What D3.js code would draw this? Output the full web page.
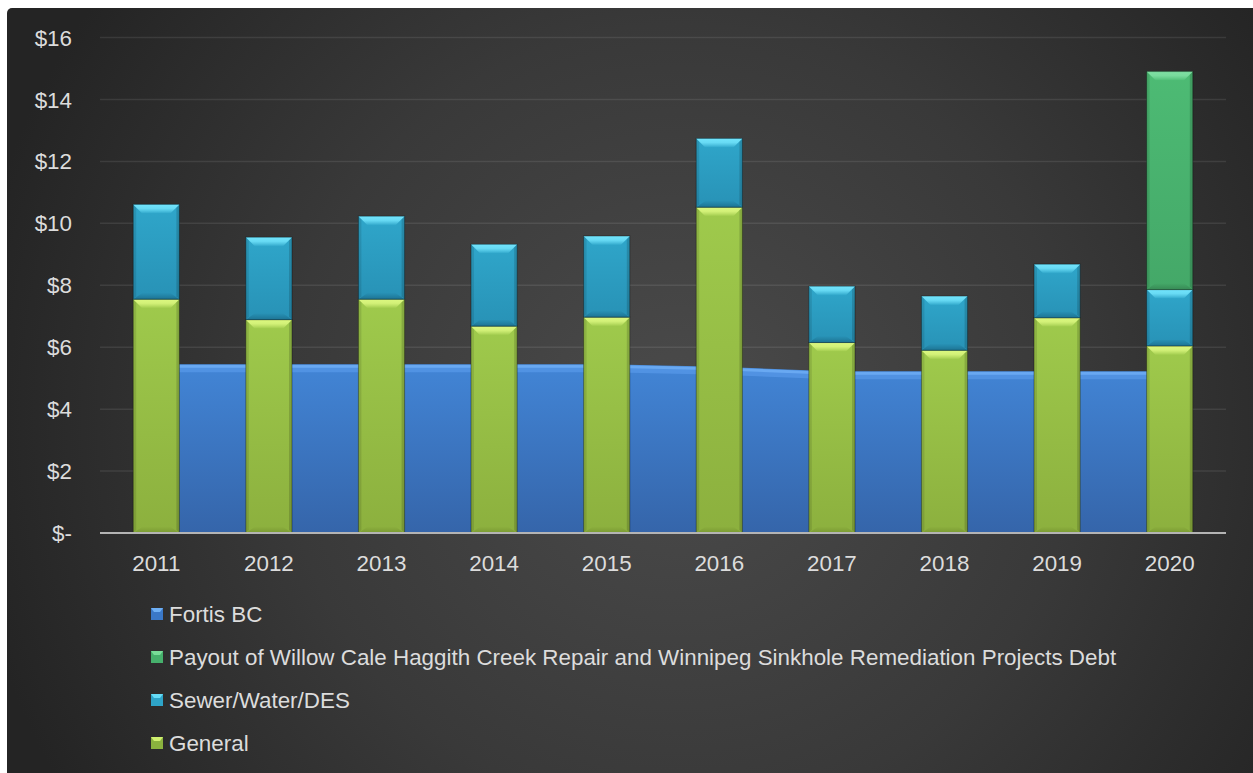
<!DOCTYPE html>
<html><head><meta charset="utf-8">
<script src="https://cdn.jsdelivr.net/npm/d3@7"></script>
<style>html,body{margin:0;padding:0;background:#fff;overflow:hidden}</style>
</head><body>
<svg id="c" width="1253" height="773"></svg>
<script>
const years = ["2011","2012","2013","2014","2015","2016","2017","2018","2019","2020"];
const fortis = [5.45,5.45,5.45,5.45,5.45,5.37,5.22,5.22,5.22,5.22];
const general = [7.55,6.89,7.55,6.68,6.97,10.52,6.15,5.90,6.95,6.04];
const sewer = [3.06,2.66,2.68,2.64,2.62,2.22,1.82,1.75,1.73,1.82];
const payout = [0,0,0,0,0,0,0,0,0,7.04];
const yTicks = [0,2,4,6,8,10,12,14,16];
const legendLabels = ["Fortis BC","Payout of Willow Cale Haggith Creek Repair and Winnipeg Sinkhole Remediation Projects Debt","Sewer/Water/DES","General"];

const FONT = "Liberation Sans, Arial, sans-serif";
const FS = 22.4;
const svg = d3.select("#c");
const defs = svg.append("defs");
const bg = defs.append("radialGradient").attr("id","bg").attr("gradientUnits","userSpaceOnUse")
  .attr("cx",680).attr("cy",420).attr("r",720);
bg.append("stop").attr("offset","0").attr("stop-color","#4b4b4b");
bg.append("stop").attr("offset","0.55").attr("stop-color","#393939");
bg.append("stop").attr("offset","1").attr("stop-color","#242424");
svg.append("rect").attr("x",7).attr("y",8).attr("width",1260).attr("height",780).attr("rx",5).attr("fill","url(#bg)");

const x = d3.scaleBand().domain(years).range([100,1226]).paddingInner(0.59).paddingOuter(0.295);
const y = d3.scaleLinear().domain([0,16]).range([533,37.5]);
const cx = d => x(d)+x.bandwidth()/2;

// gridlines
svg.append("g").selectAll("line").data(yTicks.slice(1)).join("line")
  .attr("x1",100).attr("x2",1226).attr("y1",d=>y(d)).attr("y2",d=>y(d))
  .attr("stroke","#ffffff").attr("stroke-opacity",0.09).attr("stroke-width",1.5);

// y labels
svg.append("g").selectAll("text").data(yTicks).join("text")
  .attr("x",72).attr("y",d=>y(d)).attr("dy","0.36em").attr("text-anchor","end")
  .attr("font-family",FONT).attr("font-size",FS).attr("fill","#dcdcdc")
  .text(d=> d===0 ? "$-" : "$"+d);

// Fortis area
const fg = defs.append("linearGradient").attr("id","fortisG").attr("x1",0).attr("x2",0).attr("y1",0).attr("y2",1);
fg.append("stop").attr("offset","0").attr("stop-color","#4285d6");
fg.append("stop").attr("offset","1").attr("stop-color","#3565aa");
const fdata = years.map((yr,i)=>({x:cx(yr), v:fortis[i]}));
svg.append("path").datum(fdata)
  .attr("d", d3.area().x(d=>d.x).y0(y(0)).y1(d=>y(d.v)))
  .attr("fill","url(#fortisG)");
svg.append("path").datum(fdata)
  .attr("d", d3.line().x(d=>d.x).y(d=>y(d.v)+4.5))
  .attr("fill","none").attr("stroke","#5b9cec").attr("stroke-width",7).attr("stroke-opacity",0.6);
svg.append("path").datum(fdata)
  .attr("d", d3.line().x(d=>d.x).y(d=>y(d.v)+2))
  .attr("fill","none").attr("stroke","#74b2f8").attr("stroke-width",3).attr("stroke-opacity",0.7);

// stacked bars
const series = [
  {id:"gen", vals:general, main:"#9fca4c", dark:"#8cb03e", top:"#dcf880", bot:"#7a9a33"},
  {id:"sew", vals:sewer, main:"#2fa6ca", dark:"#2892b6", top:"#72e4fc", bot:"#1d7494"},
  {id:"pay", vals:payout, main:"#4dbb74", dark:"#44a868", top:"#80e0a4", bot:"#378a55"}
];
series.forEach(s=>{
  const g = defs.append("linearGradient").attr("id","m_"+s.id).attr("x1",0).attr("x2",0).attr("y1",0).attr("y2",1);
  g.append("stop").attr("offset","0").attr("stop-color",s.main);
  g.append("stop").attr("offset","1").attr("stop-color",s.dark);
  const t = defs.append("linearGradient").attr("id","t_"+s.id).attr("x1",0).attr("x2",0).attr("y1",0).attr("y2",1);
  t.append("stop").attr("offset","0").attr("stop-color",s.top);
  t.append("stop").attr("offset","0.45").attr("stop-color",s.top).attr("stop-opacity",0.85);
  t.append("stop").attr("offset","1").attr("stop-color",s.main);
  const b = defs.append("linearGradient").attr("id","b_"+s.id).attr("x1",0).attr("x2",0).attr("y1",0).attr("y2",1);
  b.append("stop").attr("offset","0").attr("stop-color",s.dark);
  b.append("stop").attr("offset","1").attr("stop-color",s.bot);
});
const bw = x.bandwidth();
const bev = 9;
const gBars = svg.append("g");
years.forEach((yr,i)=>{
  let base = 0;
  series.forEach(s=>{
    const v = s.vals[i];
    if (v<=0) return;
    const x0 = x(yr), x1 = x0+bw;
    const yb = y(base), yt = y(base+v);
    base += v;
    const g = gBars.append("g");
    g.append("rect").attr("x",x0).attr("y",yt).attr("width",bw).attr("height",yb-yt).attr("fill","url(#m_"+s.id+")");
    g.append("polygon").attr("points",[[x0,yt],[x0+3,yt+3],[x0+3,yb-3],[x0,yb]].join(" ")).attr("fill","#000").attr("fill-opacity",0.1);
    g.append("polygon").attr("points",[[x1,yt],[x1-3,yt+3],[x1-3,yb-3],[x1,yb]].join(" ")).attr("fill","#000").attr("fill-opacity",0.15);
    g.append("polygon").attr("points",[[x0,yb],[x1,yb],[x1-bev,yb-bev*0.7],[x0+bev,yb-bev*0.7]].join(" ")).attr("fill","url(#b_"+s.id+")");
    g.append("polygon").attr("points",[[x0,yt],[x1,yt],[x1-bev,yt+bev],[x0+bev,yt+bev]].join(" ")).attr("fill","url(#t_"+s.id+")");
    g.append("rect").attr("x",x0).attr("y",yt).attr("width",bw).attr("height",yb-yt)
      .attr("fill","none").attr("stroke","#000").attr("stroke-opacity",0.35).attr("stroke-width",1);
  });
});

// axis line
svg.append("line").attr("x1",100).attr("x2",1226).attr("y1",y(0)).attr("y2",y(0))
  .attr("stroke","#b4b4b4").attr("stroke-width",2.2);

// x labels
svg.append("g").selectAll("text").data(years).join("text")
  .attr("x",d=>cx(d)).attr("y",563).attr("dy","0.36em").attr("text-anchor","middle")
  .attr("font-family",FONT).attr("font-size",FS).attr("fill","#dcdcdc")
  .text(d=>d);

// legend
const legCols = [
  {main:"#3a78c8", top:"#6fb0f5"},
  {main:"#46b06c", top:"#78dc98"},
  {main:"#2ea4c8", top:"#66dcf6"},
  {main:"#8ab23e", top:"#d0f070"}
];
const lg = svg.append("g");
legendLabels.forEach((t,i)=>{
  const yy = 614 + i*43;
  const c = legCols[i];
  lg.append("rect").attr("x",151).attr("y",yy-6).attr("width",12).attr("height",12).attr("fill",c.main);
  lg.append("polygon").attr("points",[[151,yy-6],[163,yy-6],[160,yy-2],[154,yy-2]].join(" ")).attr("fill",c.top);
  lg.append("text").attr("x",169).attr("y",yy).attr("dy","0.36em")
    .attr("font-family",FONT).attr("font-size",FS).attr("fill","#dcdcdc")
    .text(t);
});
</script>
</body></html>
